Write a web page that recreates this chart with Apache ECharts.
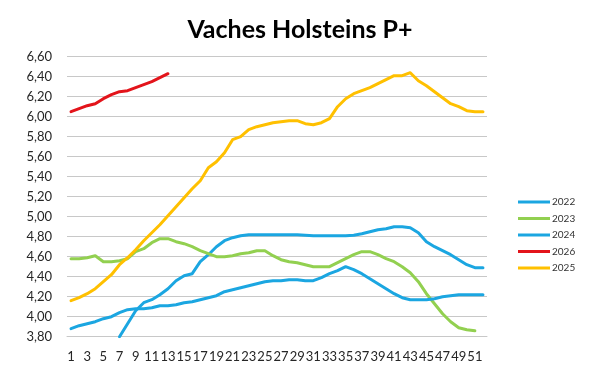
<!DOCTYPE html>
<html>
<head>
<meta charset="utf-8">
<script src="https://cdn.jsdelivr.net/npm/echarts@6/dist/echarts.min.js"></script>
<style>html,body{margin:0;padding:0;background:#fff}#c{width:600px;height:375px}</style>
</head>
<body>
<div id="c"></div>
<script>
const weeks = ['1','2','3','4','5','6','7','8','9','10','11','12','13','14','15','16','17','18','19','20','21','22','23','24','25','26','27','28','29','30','31','32','33','34','35','36','37','38','39','40','41','42','43','44','45','46','47','48','49','50','51','52'];
const yTicks = ['3,80','4,00','4,20','4,40','4,60','4,80','5,00','5,20','5,40','5,60','5,80','6,00','6,20','6,40','6,60'];
const v2022 = [null,null,null,null,null,null,3.80,3.93,4.06,4.14,4.17,4.22,4.28,4.36,4.41,4.43,4.55,4.62,4.70,4.76,4.79,4.81,4.82,4.82,4.82,4.82,4.82,4.82,4.82,4.815,4.81,4.81,4.81,4.81,4.81,4.815,4.83,4.85,4.87,4.88,4.90,4.90,4.89,4.84,4.75,4.70,4.66,4.62,4.57,4.52,4.49,4.49];
const v2023 = [4.58,4.58,4.59,4.61,4.55,4.55,4.56,4.58,4.65,4.68,4.74,4.78,4.78,4.75,4.73,4.70,4.66,4.63,4.60,4.60,4.61,4.63,4.64,4.66,4.66,4.61,4.57,4.55,4.54,4.52,4.50,4.50,4.50,4.54,4.58,4.62,4.65,4.65,4.62,4.58,4.55,4.50,4.44,4.35,4.23,4.13,4.03,3.95,3.89,3.87,3.86,null];
const v2024 = [3.88,3.91,3.93,3.95,3.98,4.00,4.04,4.07,4.08,4.08,4.09,4.11,4.11,4.12,4.14,4.15,4.17,4.19,4.21,4.25,4.27,4.29,4.31,4.33,4.35,4.36,4.36,4.37,4.37,4.36,4.36,4.39,4.43,4.46,4.50,4.47,4.43,4.38,4.33,4.28,4.23,4.19,4.17,4.17,4.17,4.18,4.20,4.21,4.22,4.22,4.22,4.22];
const v2026 = [6.05,6.08,6.11,6.13,6.18,6.22,6.25,6.26,6.29,6.32,6.35,6.39,6.43];
const v2025 = [4.16,4.19,4.23,4.28,4.35,4.42,4.52,4.59,4.67,4.76,4.84,4.92,5.01,5.10,5.19,5.28,5.36,5.49,5.55,5.64,5.77,5.80,5.87,5.90,5.92,5.94,5.95,5.96,5.96,5.93,5.92,5.94,5.98,6.10,6.18,6.23,6.26,6.29,6.33,6.37,6.41,6.41,6.44,6.36,6.31,6.25,6.19,6.13,6.10,6.06,6.05,6.05];

const FONT = 'Lato';
const BLUE = '#1BA6E1', GREEN = '#92D050', RED = '#E3141B', YELLOW = '#FFC000';
function mk(name, data, color) {
  return {name, type:'line', data, symbol:'none', smooth:false, connectNulls:false,
    lineStyle:{width:3, color, join:'round', cap:'round'}, itemStyle:{color}};
}
const chart = echarts.init(document.getElementById('c'), null, {renderer:'canvas'});
chart.setOption({
  animation:false,
  backgroundColor:'#fff',
  title:{text:'Vaches Holsteins P+', left:'center', top:12,
    textStyle:{fontFamily:FONT, fontSize:25, fontWeight:'bold', color:'#000'}},
  grid:{left:67, right:113, top:56.7, bottom:38.3, containLabel:false},
  legend:{orient:'vertical', left:513, top:191, itemWidth:32, itemHeight:3, itemGap:4.5,
    icon:'rect',
    data:['2022','2023','2024','2026','2025'],
    textStyle:{fontFamily:FONT, fontSize:10, color:'#333', lineHeight:12, padding:[0,0,0,-3]}},
  xAxis:{type:'category', data:weeks, boundaryGap:true,
    axisLine:{show:true, lineStyle:{color:'#c8c8c8', width:1}},
    axisTick:{show:false},
    axisLabel:{interval:1, margin:14, fontFamily:FONT, fontSize:13, color:'#262626', hideOverlap:false}},
  yAxis:{type:'value', min:3.8, max:6.6, interval:0.2,
    axisLine:{show:false}, axisTick:{show:false},
    splitLine:{lineStyle:{color:'#c8c8c8', width:1}},
    axisLabel:{margin:15, fontFamily:FONT, fontSize:13, color:'#262626',
      formatter:function(v){ const i = Math.round((v-3.8)/0.2); return yTicks[i] !== undefined ? yTicks[i] : ''; }}},
  series:[mk('2022', v2022, BLUE), mk('2023', v2023, GREEN), mk('2024', v2024, BLUE), mk('2026', v2026, RED), mk('2025', v2025, YELLOW)]
});
</script>
</body>
</html>
